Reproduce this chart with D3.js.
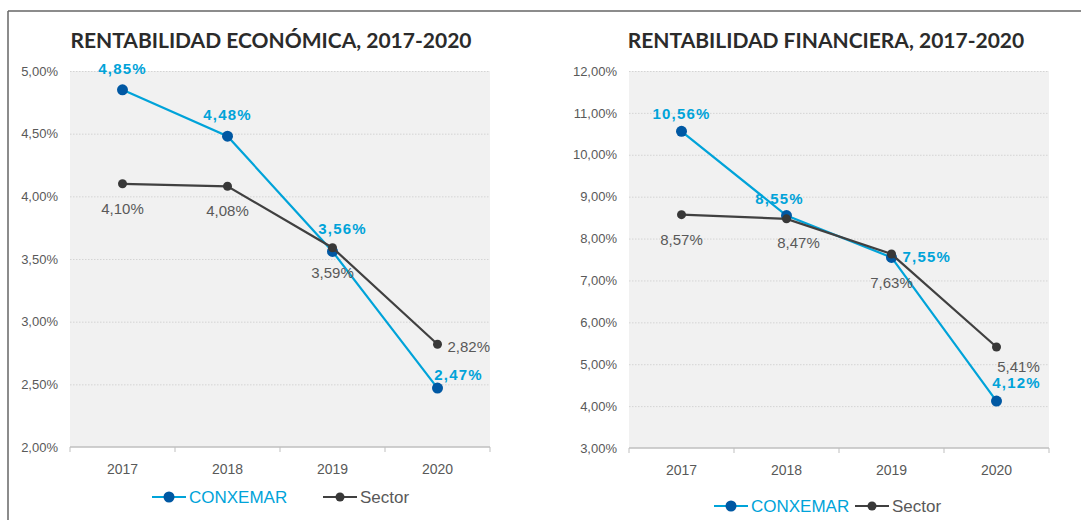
<!DOCTYPE html>
<html>
<head>
<meta charset="utf-8">
<script src="https://cdn.jsdelivr.net/npm/d3@7"></script>
<style>
  body { margin: 0; background: #fff; }
  svg { display: block; }
</style>
</head>
<body>
<script>
// data
const years = ["2017", "2018", "2019", "2020"];
const economicaConxemar = [4.85, 4.48, 3.56, 2.47];
const economicaSector = [4.10, 4.08, 3.59, 2.82];
const financieraConxemar = [10.56, 8.55, 7.55, 4.12];
const financieraSector = [8.57, 8.47, 7.63, 5.41];
const economicaTicks = [2, 2.5, 3, 3.5, 4, 4.5, 5];
const financieraTicks = [3, 4, 5, 6, 7, 8, 9, 10, 11, 12];

const W = 1081, H = 520;
const CYAN = "#00a3d9", BLUE = "#0058a3", DARK = "#404040", GREY = "#595959";

const fmt = v => v.toFixed(2).replace(".", ",") + "%";

const svg = d3.select("body").append("svg")
    .attr("width", W)
    .attr("height", H);

// outer frame (top + left edges only visible)
svg.append("line").attr("x1", 8).attr("x2", W).attr("y1", 11).attr("y2", 11)
    .attr("stroke", "#666").attr("stroke-width", 1.5);
svg.append("line").attr("x1", 8).attr("x2", 8).attr("y1", 11).attr("y2", H)
    .attr("stroke", "#666").attr("stroke-width", 1.5);

// label offsets [dx, dy, anchor] per point
const panels = [
  {
    title: "RENTABILIDAD ECONÓMICA, 2017-2020", titleX: 271,
    x0: 70, x1: 490, yTop: 71, yBot: 447,
    domain: [2, 5], ticks: economicaTicks,
    conx: economicaConxemar, sect: economicaSector,
    conxLab: [[0, -16, "middle"], [0, -16, "middle"], [10, -17, "middle"], [21, -8, "middle"]],
    sectLab: [[0, 30, "middle"], [0, 30, "middle"], [0, 30, "middle"], [10, 8, "start"]],
    legY: 497, legConx: 152, legSect: 323
  },
  {
    title: "RENTABILIDAD FINANCIERA, 2017-2020", titleX: 826,
    x0: 629, x1: 1049, yTop: 71, yBot: 448,
    domain: [3, 12], ticks: financieraTicks,
    conx: financieraConxemar, sect: financieraSector,
    conxLab: [[0, -12, "middle"], [-7, -12, "middle"], [11, 5, "start"], [20, -13, "middle"]],
    sectLab: [[0, 30, "middle"], [12, 29, "middle"], [0, 34, "middle"], [22, 25, "middle"]],
    legY: 506, legConx: 714, legSect: 855
  }
];

panels.forEach(p => {
  const g = svg.append("g");

  const x = d3.scaleBand().domain(years).range([p.x0, p.x1]).padding(0);
  const y = d3.scaleLinear().domain(p.domain).range([p.yBot, p.yTop]);
  const cx = d => x(d) + x.bandwidth() / 2;

  g.append("text")
      .attr("x", p.titleX).attr("y", 48)
      .attr("text-anchor", "middle")
      .style("font-family", "Lato, 'Open Sans', sans-serif")
      .style("font-weight", "bold")
      .style("font-size", "21px")
      .style("fill", "#2b2b2b")
      .text(p.title);

  g.append("rect")
      .attr("x", p.x0).attr("y", p.yTop)
      .attr("width", p.x1 - p.x0).attr("height", p.yBot - p.yTop)
      .attr("fill", "#f1f1f1");

  // gridlines
  g.selectAll(".grid")
      .data(p.ticks.filter(t => t !== p.domain[0]))
      .enter().append("line")
      .attr("x1", p.x0).attr("x2", p.x1)
      .attr("y1", d => y(d) + 0.5).attr("y2", d => y(d) + 0.5)
      .attr("stroke", "#d4d4d4")
      .attr("stroke-dasharray", "1.5,1.5");

  // y axis labels
  const yAxis = d3.axisLeft(y).tickValues(p.ticks).tickFormat(fmt).tickSize(0).tickPadding(12);
  const ya = g.append("g").attr("transform", `translate(${p.x0},0)`).call(yAxis);
  ya.select(".domain").remove();
  ya.selectAll("text")
      .style("font-family", "'Liberation Sans', Arial, sans-serif")
      .style("font-size", "13px")
      .style("fill", GREY);

  // x axis with ticks between categories
  const xa = g.append("g").attr("transform", `translate(0,${p.yBot})`);
  xa.append("line").attr("x1", p.x0).attr("x2", p.x1)
      .attr("stroke", "#bfbfbf").attr("stroke-width", 1.5);
  xa.selectAll(".tk")
      .data(years.map(d => x(d)).concat([p.x1]))
      .enter().append("line")
      .attr("x1", d => d).attr("x2", d => d)
      .attr("y1", 0).attr("y2", 5)
      .attr("stroke", "#bfbfbf");
  xa.selectAll(".yl")
      .data(years)
      .enter().append("text")
      .attr("x", cx).attr("y", 27)
      .attr("text-anchor", "middle")
      .style("font-family", "'Liberation Sans', Arial, sans-serif")
      .style("font-size", "14px")
      .style("fill", GREY)
      .text(d => d);

  const line = d3.line().x((d, i) => cx(years[i])).y(d => y(d));

  // CONXEMAR
  g.append("path").datum(p.conx)
      .attr("d", line).attr("fill", "none")
      .attr("stroke", CYAN).attr("stroke-width", 2.2);
  g.selectAll(".mc").data(p.conx).enter().append("circle")
      .attr("cx", (d, i) => cx(years[i])).attr("cy", d => y(d))
      .attr("r", 5.5).attr("fill", BLUE);

  // Sector
  g.append("path").datum(p.sect)
      .attr("d", line).attr("fill", "none")
      .attr("stroke", DARK).attr("stroke-width", 2.2);
  g.selectAll(".ms").data(p.sect).enter().append("circle")
      .attr("cx", (d, i) => cx(years[i])).attr("cy", d => y(d))
      .attr("r", 4.5).attr("fill", "#383838");

  // labels
  g.selectAll(".lc").data(p.conx).enter().append("text")
      .attr("x", (d, i) => cx(years[i]) + p.conxLab[i][0])
      .attr("y", (d, i) => y(d) + p.conxLab[i][1])
      .attr("text-anchor", (d, i) => p.conxLab[i][2])
      .style("font-family", "'Liberation Sans', Arial, sans-serif")
      .style("font-size", "15px")
      .style("font-weight", "bold")
      .style("letter-spacing", "1.2px")
      .style("fill", CYAN)
      .text(fmt);
  g.selectAll(".ls").data(p.sect).enter().append("text")
      .attr("x", (d, i) => cx(years[i]) + p.sectLab[i][0])
      .attr("y", (d, i) => y(d) + p.sectLab[i][1])
      .attr("text-anchor", (d, i) => p.sectLab[i][2])
      .style("font-family", "'Liberation Sans', Arial, sans-serif")
      .style("font-size", "15px")
      .style("fill", GREY)
      .text(fmt);

  // legend
  const leg = [
    { name: "CONXEMAR", x: p.legConx, stroke: CYAN, dot: BLUE, r: 5.5, color: CYAN },
    { name: "Sector", x: p.legSect, stroke: DARK, dot: "#383838", r: 4.5, color: GREY }
  ];
  leg.forEach(l => {
    g.append("line").attr("x1", l.x).attr("x2", l.x + 34)
        .attr("y1", p.legY).attr("y2", p.legY)
        .attr("stroke", l.stroke).attr("stroke-width", 2.2);
    g.append("circle").attr("cx", l.x + 17).attr("cy", p.legY).attr("r", l.r).attr("fill", l.dot);
    g.append("text").attr("x", l.x + 37).attr("y", p.legY + 6)
        .style("font-family", "'Liberation Sans', Arial, sans-serif")
        .style("font-size", "17px")
        .style("fill", l.color)
        .text(l.name);
  });
});
</script>
</body>
</html>
